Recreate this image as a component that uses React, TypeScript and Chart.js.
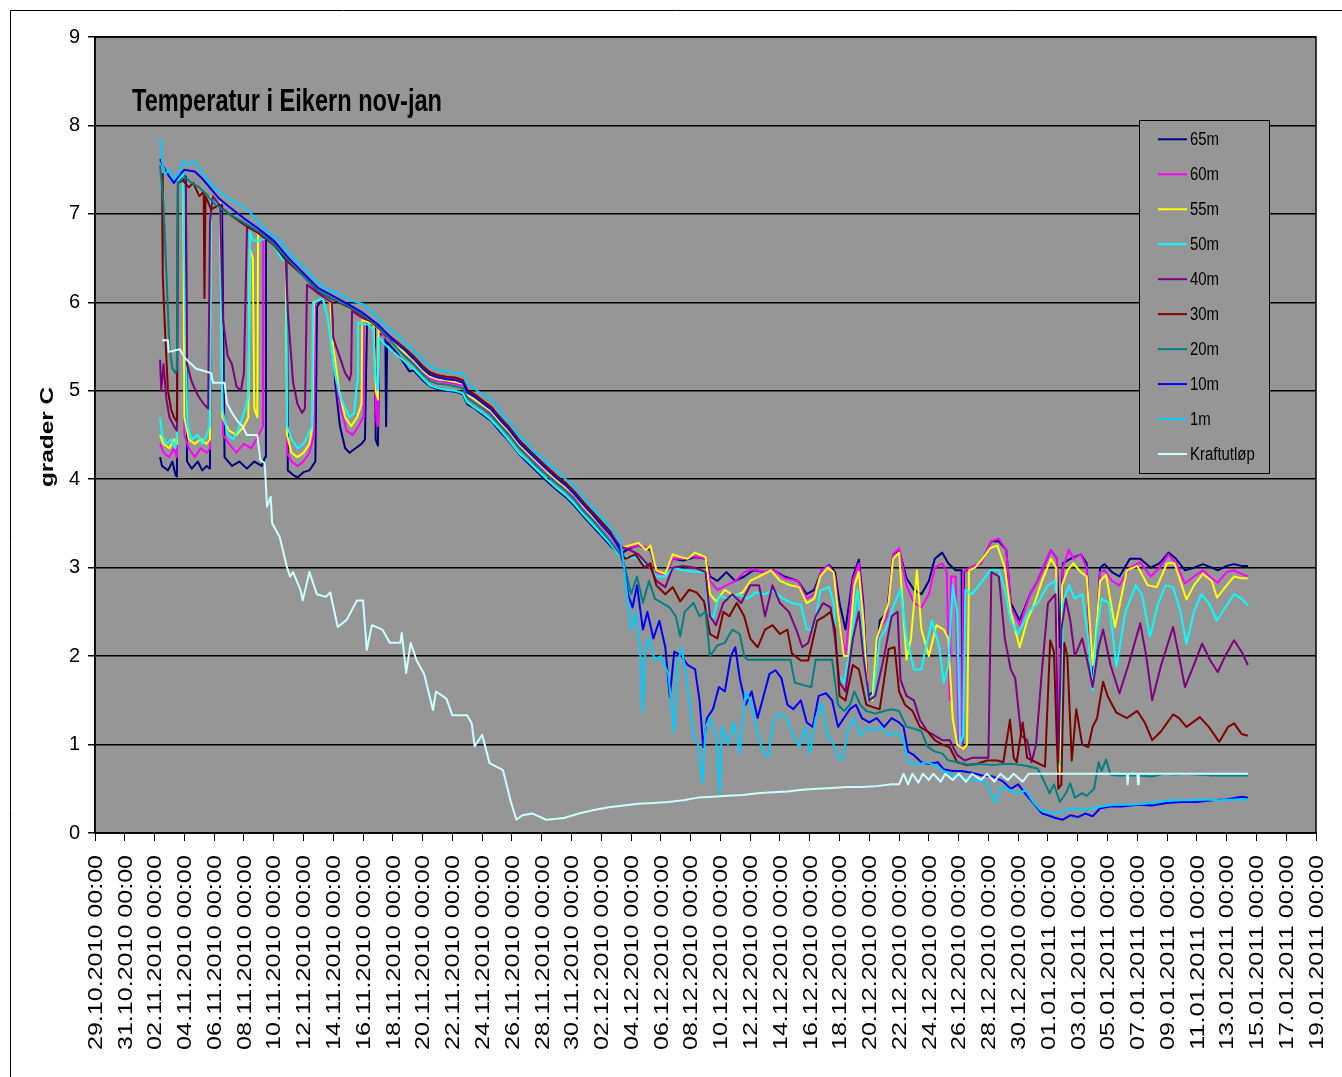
import React, { useEffect, useRef } from "react";
import { Chart, registerables } from "chart.js";

Chart.register(...registerables);

const chartTitle = "Temperatur i Eikern nov-jan";
const yAxisTitle = "grader C";

const tickLabels = [
  "29.10.2010 00:00", "31.10.2010 00:00", "02.11.2010 00:00", "04.11.2010 00:00", "06.11.2010 00:00",
  "08.11.2010 00:00", "10.11.2010 00:00", "12.11.2010 00:00", "14.11.2010 00:00", "16.11.2010 00:00",
  "18.11.2010 00:00", "20.11.2010 00:00", "22.11.2010 00:00", "24.11.2010 00:00", "26.11.2010 00:00",
  "28.11.2010 00:00", "30.11.2010 00:00", "02.12.2010 00:00", "04.12.2010 00:00", "06.12.2010 00:00",
  "08.12.2010 00:00", "10.12.2010 00:00", "12.12.2010 00:00", "14.12.2010 00:00", "16.12.2010 00:00",
  "18.12.2010 00:00", "20.12.2010 00:00", "22.12.2010 00:00", "24.12.2010 00:00", "26.12.2010 00:00",
  "28.12.2010 00:00", "30.12.2010 00:00", "01.01.2011 00:00", "03.01.2011 00:00", "05.01.2011 00:00",
  "07.01.2011 00:00", "09.01.2011 00:00", "11.01.2011 00:00", "13.01.2011 00:00", "15.01.2011 00:00",
  "17.01.2011 00:00", "19.01.2011 00:00",
];

const seriesNames = ["65m", "60m", "55m", "50m", "40m", "30m", "20m", "10m", "1m", "Kraftutløp"];
const seriesColors = ["#000080", "#FF00FF", "#FFFF00", "#00FFFF", "#800080", "#800000", "#008080", "#0000FF", "#00CCFF", "#CCFFFF"];

// [days since 29.10.2010 00:00, temperature °C]
const s65: [number, number][] = [
  [4.37,4.25],[4.5,4.15],[4.9,4.1],[5.2,4.2],[5.4,4.05],[5.5,4.03],[5.57,7.4],[5.9,7.45],[6.1,7.42],[6.18,4.2],[6.5,4.12],[6.9,4.2],[7.2,4.1],[7.5,4.15],[7.72,4.12],[7.79,7.2],[8.3,7.12],[8.53,7.1],[8.7,4.25],[9.2,4.15],[9.7,4.2],[10.2,4.12],[10.7,4.2],[11.2,4.15],[11.42,4.25],[11.48,6.75],[12.0,6.68],[12.5,6.55],[12.89,6.46],[12.95,4.1],[13.3,4.05],[13.6,4.02],[14.0,4.08],[14.4,4.1],[14.8,4.2],[14.91,5.95],[15.3,6.05],[15.78,6.0],[15.92,5.9],[16.12,5.1],[16.45,4.6],[16.8,4.35],[17.1,4.3],[17.5,4.35],[17.9,4.4],[18.13,4.45],[18.27,5.8],[18.6,5.75],[18.8,5.7],[18.85,4.45],[19.0,4.38],[19.1,5.65],[19.5,5.62],[19.55,4.6],[19.62,5.55],[20.3,5.42],
  [20.8,5.3],[21.1,5.22],[21.4,5.23],[22.0,5.12],[22.5,5.05],[23.0,5.02],[23.6,5.0],[24.2,4.99],[24.7,4.96],[25.0,4.85],[25.5,4.8],[26.1,4.72],[26.6,4.66],[27.2,4.54],[27.8,4.43],[28.5,4.28],[29.1,4.18],[29.9,4.05],[30.4,3.97],[31.0,3.88],[31.6,3.8],[32.2,3.7],[32.8,3.58],[33.4,3.47],[33.9,3.38],[34.6,3.25],[35.26,3.15],
  [35.9,3.22],[36.5,3.25],[37.3,3.2],[37.7,2.95],[38.3,2.93],[38.8,3.1],[39.5,3.08],[40.3,3.12],[41.0,3.1],[41.3,2.9],[41.8,2.85],[42.4,2.95],[43.0,2.85],[43.6,2.9],[44.2,2.97],[45.0,2.95],[45.6,2.97],[46.3,2.9],[47.2,2.85],[47.8,2.7],[48.3,2.75],[48.8,2.97],[49.3,3.03],[49.7,2.95],[50.0,2.6],[50.4,2.3],[50.9,2.9],[51.3,3.09],[51.6,2.6],[51.9,1.55],[52.3,1.6],[52.7,2.4],[53.2,2.5],[53.6,3.15],[54.0,3.2],[54.5,2.88],[55.0,2.75],[55.5,2.7],[56.0,2.85],[56.4,3.1],[56.9,3.17],[57.3,3.05],[57.8,2.97],[58.2,2.97],[58.25,1.0],[58.35,2.95],[58.8,3.0],[59.5,3.05],[60.2,3.3],[60.7,3.3],[61.2,3.2],[61.5,2.6],[62.1,2.4],[62.8,2.7],[63.3,2.85],[64.2,3.2],[64.6,3.1],[64.8,2.1],[65.0,3.05],[65.5,3.1],[66.2,3.15],[66.6,3.05],[66.9,1.75],[67.2,2.0],[67.5,3.0],[67.8,3.04],[68.3,2.95],[68.8,2.9],[69.5,3.1],[70.2,3.1],[70.9,3.0],[71.5,3.05],[72.1,3.17],[72.6,3.1],[73.2,2.97],[73.8,3.0],[74.4,3.04],[75.0,3.0],[75.4,2.97],[76.0,3.02],[76.5,3.04],[77.0,3.02],[77.43,3.02],
];

const s60: [number, number][] = [
  [4.37,4.4],[4.6,4.3],[5.0,4.25],[5.3,4.35],[5.5,4.25],[5.57,7.4],[5.91,7.45],[6.0,4.5],[6.3,4.35],[6.7,4.25],[7.1,4.35],[7.5,4.3],[7.72,4.35],[7.79,7.2],[8.4,7.12],[8.6,4.5],[9.0,4.4],[9.5,4.3],[10.0,4.4],[10.5,4.35],[11.0,4.5],[11.28,4.6],[11.3,6.8],[12.0,6.68],[12.8,6.5],[12.89,4.3],[13.2,4.2],[13.6,4.15],[14.0,4.2],[14.4,4.3],[14.7,4.5],[14.8,6.0],[15.4,6.05],[15.85,6.0],[16.1,5.2],[16.5,4.8],[16.9,4.55],[17.3,4.5],[17.7,4.6],[18.0,4.7],[18.05,5.8],[18.7,5.75],[18.9,4.65],[19.0,4.6],[19.1,5.7],[19.5,5.6],[20.3,5.5],
  [20.8,5.42],[21.4,5.33],[22.0,5.22],[22.5,5.14],[23.0,5.11],[23.6,5.1],[24.2,5.08],[24.7,5.06],[25.0,4.95],[25.5,4.89],[26.1,4.82],[26.6,4.75],[27.2,4.64],[27.8,4.53],[28.5,4.37],[29.1,4.28],[29.9,4.14],[30.4,4.07],[31.0,3.98],[31.6,3.9],[32.2,3.8],[32.8,3.67],[33.4,3.57],[33.9,3.48],[34.6,3.35],[35.26,3.2],
  [35.9,3.23],[36.5,3.25],[37.3,3.22],[37.7,2.95],[38.3,2.92],[38.8,3.1],[39.5,3.1],[40.3,3.13],[41.0,3.1],[41.3,2.85],[41.8,2.75],[42.4,2.8],[43.0,2.85],[43.6,2.95],[44.2,2.98],[45.0,2.95],[45.6,2.97],[46.3,2.88],[47.2,2.85],[47.8,2.65],[48.3,2.7],[48.8,2.97],[49.3,3.02],[49.7,2.9],[50.0,2.4],[50.4,2.0],[50.9,2.85],[51.3,3.05],[51.6,2.5],[51.9,1.5],[52.3,1.55],[52.7,2.3],[53.2,2.45],[53.6,3.15],[54.0,3.22],[54.5,2.8],[55.0,2.6],[55.5,2.55],[56.0,2.7],[56.4,3.0],[56.9,3.05],[57.2,2.95],[57.4,1.5],[57.5,2.9],[57.8,2.9],[58.0,1.0],[58.2,0.95],[58.3,2.95],[58.8,3.0],[59.5,3.05],[60.2,3.3],[60.7,3.33],[61.2,3.2],[61.5,2.55],[62.1,2.35],[62.8,2.7],[63.3,2.85],[64.2,3.2],[64.6,3.1],[64.7,0.75],[64.85,0.75],[65.0,3.0],[65.4,3.2],[65.7,3.1],[66.2,3.15],[66.6,3.0],[66.9,1.85],[67.2,2.1],[67.5,2.95],[67.8,2.97],[68.3,2.85],[68.8,2.8],[69.5,3.0],[70.2,3.06],[70.9,2.9],[71.5,3.0],[72.1,3.15],[72.6,3.05],[73.2,2.82],[73.8,2.9],[74.4,2.97],[75.0,2.88],[75.4,2.83],[76.0,2.95],[76.5,2.97],[77.0,2.93],[77.43,2.9],
];

const s55: [number, number][] = [
  [4.37,4.5],[4.6,4.4],[5.0,4.35],[5.3,4.45],[5.5,4.4],[5.57,7.4],[5.91,7.45],[6.0,4.7],[6.3,4.45],[6.7,4.4],[7.1,4.45],[7.5,4.4],[7.72,4.45],[7.79,7.2],[8.4,7.12],[8.55,4.7],[9.0,4.55],[9.5,4.5],[10.0,4.6],[10.3,4.7],[10.4,6.6],[10.6,6.5],[10.7,4.8],[10.9,4.7],[10.95,6.8],[12.0,6.68],[12.8,6.5],[12.89,4.5],[13.2,4.3],[13.6,4.25],[14.0,4.3],[14.4,4.4],[14.6,4.6],[14.7,6.0],[15.4,6.05],[15.8,6.0],[16.0,5.5],[16.4,5.0],[16.8,4.7],[17.2,4.6],[17.6,4.7],[17.9,4.85],[17.95,5.8],[18.7,5.75],[18.85,5.0],[19.0,4.9],[19.05,5.7],[19.5,5.62],[20.3,5.5],
  [20.8,5.43],[21.4,5.34],[22.0,5.23],[22.5,5.16],[23.0,5.13],[23.6,5.12],[24.2,5.1],[24.7,5.08],[25.0,4.96],[25.5,4.9],[26.1,4.83],[26.6,4.77],[27.2,4.65],[27.8,4.54],[28.5,4.39],[29.1,4.29],[29.9,4.16],[30.4,4.08],[31.0,3.99],[31.6,3.91],[32.2,3.82],[32.8,3.69],[33.4,3.58],[33.9,3.49],[34.6,3.36],[35.26,3.22],
  [35.9,3.25],[36.5,3.28],[37.0,3.2],[37.3,3.25],[37.7,2.97],[38.3,2.93],[38.8,3.15],[39.3,3.12],[39.8,3.1],[40.3,3.17],[41.0,3.12],[41.3,2.7],[41.7,2.62],[42.3,2.75],[42.9,2.68],[43.5,2.72],[44.0,2.85],[44.6,2.9],[45.4,2.97],[46.0,2.85],[46.7,2.8],[47.3,2.78],[47.8,2.6],[48.3,2.65],[48.7,2.9],[49.2,3.0],[49.6,2.95],[49.9,2.5],[50.3,2.0],[50.6,2.0],[51.0,2.8],[51.3,2.95],[51.6,2.4],[51.9,1.55],[52.2,1.5],[52.5,2.2],[52.8,2.35],[53.3,2.6],[53.6,3.1],[54.0,3.17],[54.5,1.96],[54.8,2.2],[55.2,2.97],[55.5,2.3],[56.0,2.0],[56.5,2.35],[57.0,2.3],[57.3,2.2],[57.6,1.3],[57.9,1.0],[58.3,0.95],[58.56,1.0],[58.7,2.97],[59.1,3.0],[59.6,3.1],[60.1,3.22],[60.6,3.25],[61.1,3.0],[61.5,2.5],[62.1,2.1],[62.6,2.4],[63.1,2.6],[63.6,2.85],[64.2,3.1],[64.55,3.0],[64.65,0.68],[64.8,0.7],[64.95,2.8],[65.3,2.97],[65.7,3.05],[66.2,2.95],[66.6,2.9],[67.0,1.9],[67.2,2.2],[67.5,2.85],[67.9,2.92],[68.5,2.33],[69.3,2.97],[70.0,3.02],[70.7,2.8],[71.3,2.78],[72.0,3.05],[72.5,3.05],[73.3,2.64],[73.8,2.8],[74.4,2.93],[75.0,2.85],[75.35,2.66],[76.0,2.8],[76.5,2.9],[77.0,2.88],[77.43,2.88],
];

const s50: [number, number][] = [
  [4.37,4.7],[4.5,4.5],[4.8,4.4],[5.1,4.45],[5.4,4.35],[5.5,4.5],[5.57,7.4],[5.91,7.45],[5.95,6.9],[6.1,5.5],[6.2,4.6],[6.5,4.45],[6.9,4.5],[7.2,4.4],[7.5,4.5],[7.7,4.6],[7.79,7.15],[8.4,7.1],[8.55,4.8],[8.9,4.5],[9.3,4.45],[9.7,4.6],[10.1,4.8],[10.3,4.95],[10.41,6.8],[10.6,6.7],[11.0,6.7],[11.5,6.72],[12.0,6.65],[12.5,6.5],[12.85,6.45],[12.9,4.6],[13.2,4.45],[13.6,4.35],[14.0,4.4],[14.3,4.5],[14.57,4.6],[14.64,6.0],[15.3,6.05],[15.65,5.8],[16.1,5.2],[16.45,4.95],[16.8,4.8],[17.1,4.7],[17.4,4.75],[17.6,5.1],[17.66,5.77],[18.3,5.75],[18.7,5.7],[18.8,5.2],[19.0,5.0],[19.1,5.6],[19.5,5.52],[20.3,5.4],
  [20.8,5.33],[21.4,5.25],[22.0,5.14],[22.5,5.06],[23.0,5.03],[23.6,5.01],[24.2,5.0],[24.7,4.97],[25.0,4.87],[25.5,4.81],[26.1,4.74],[26.6,4.67],[27.2,4.56],[27.8,4.44],[28.5,4.29],[29.1,4.2],[29.9,4.07],[30.4,3.99],[31.0,3.9],[31.6,3.82],[32.2,3.72],[32.8,3.6],[33.4,3.49],[33.9,3.4],[34.6,3.27],[35.26,3.13],
  [35.9,3.12],[36.5,3.1],[37.3,3.0],[37.7,2.9],[38.3,2.9],[38.8,3.0],[39.5,2.97],[40.3,2.95],[41.0,2.95],[41.2,2.5],[41.5,2.42],[41.9,2.68],[42.5,2.65],[43.2,2.7],[43.8,2.65],[44.4,2.72],[45.0,2.7],[45.5,2.74],[46.2,2.65],[46.8,2.6],[47.4,2.58],[47.8,2.3],[48.3,2.3],[48.7,2.74],[49.3,2.78],[49.6,2.6],[49.9,1.8],[50.3,1.7],[50.7,2.05],[51.2,2.75],[51.5,2.3],[51.9,1.5],[52.3,1.55],[52.7,2.2],[53.1,2.3],[53.7,2.6],[54.1,2.75],[54.5,2.2],[55.0,1.85],[55.5,1.85],[55.8,2.1],[56.2,2.4],[56.7,2.1],[57.0,1.7],[57.3,1.9],[57.6,2.8],[57.9,2.5],[58.1,1.0],[58.3,1.1],[58.45,2.75],[58.9,2.7],[59.6,2.85],[60.1,2.97],[60.7,2.97],[61.1,2.75],[61.5,2.4],[62.0,2.25],[62.7,2.5],[63.3,2.6],[64.0,2.8],[64.5,2.85],[64.65,0.75],[64.9,0.8],[65.0,2.6],[65.4,2.8],[65.8,2.65],[66.3,2.7],[66.7,2.2],[67.0,1.62],[67.3,2.3],[67.6,2.65],[68.1,2.6],[68.6,1.88],[69.2,2.5],[69.9,2.8],[70.3,2.7],[70.85,2.22],[71.4,2.6],[71.9,2.8],[72.4,2.78],[72.9,2.5],[73.3,2.14],[73.8,2.5],[74.3,2.7],[74.8,2.6],[75.35,2.4],[75.9,2.55],[76.5,2.7],[77.0,2.65],[77.43,2.57],
];

const s40: [number, number][] = [
  [4.37,5.35],[4.45,5.0],[4.6,5.3],[4.8,4.9],[5.0,4.7],[5.3,4.6],[5.5,4.55],[5.57,7.35],[6.1,7.4],[6.18,5.3],[6.5,5.1],[6.9,4.95],[7.3,4.85],[7.6,4.8],[7.72,6.9],[7.9,7.2],[8.4,7.1],[8.6,5.8],[8.9,5.4],[9.2,5.3],[9.5,5.05],[9.8,5.0],[10.0,5.2],[10.21,6.85],[11.0,6.8],[12.0,6.68],[12.8,6.5],[12.95,5.9],[13.3,5.1],[13.6,4.85],[13.9,4.75],[14.1,4.8],[14.24,6.2],[15.0,6.1],[15.9,6.0],[16.0,5.6],[16.4,5.4],[16.8,5.2],[17.1,5.12],[17.2,5.2],[17.26,5.9],[18.0,5.82],[18.7,5.78],[19.5,5.62],[20.3,5.54],
  [20.8,5.47],[21.4,5.38],[22.0,5.27],[22.5,5.2],[23.0,5.17],[23.6,5.15],[24.2,5.14],[24.7,5.11],[25.0,5.0],[25.5,4.95],[26.1,4.87],[26.6,4.81],[27.2,4.69],[27.8,4.58],[28.5,4.43],[29.1,4.33],[29.9,4.2],[30.4,4.12],[31.0,4.03],[31.6,3.95],[32.2,3.85],[32.8,3.73],[33.4,3.62],[33.9,3.53],[34.6,3.4],[35.26,3.24],
  [35.9,3.2],[36.5,3.15],[37.3,3.0],[37.7,2.85],[38.3,2.78],[38.8,3.0],[39.5,3.02],[40.3,3.0],[41.0,2.95],[41.3,2.45],[41.7,2.35],[42.2,2.6],[42.8,2.7],[43.4,2.6],[44.0,2.8],[44.6,2.8],[45.0,2.45],[45.5,2.8],[46.0,2.6],[46.6,2.5],[47.1,2.3],[47.5,2.1],[47.9,2.15],[48.4,2.45],[48.9,2.6],[49.4,2.55],[49.7,2.2],[50.0,1.7],[50.4,1.6],[50.9,2.2],[51.3,2.5],[51.6,2.0],[52.0,1.5],[52.4,1.55],[53.0,2.0],[53.5,2.45],[53.9,2.5],[54.1,1.73],[54.5,1.55],[55.0,1.5],[55.4,1.28],[55.9,1.15],[56.4,1.1],[56.9,1.05],[57.4,1.05],[57.9,0.88],[58.4,0.82],[58.9,0.85],[59.5,0.85],[60.0,0.85],[60.2,2.95],[60.7,2.9],[61.1,2.2],[61.5,1.85],[61.8,1.75],[62.2,1.1],[62.6,1.05],[62.9,0.8],[63.2,1.0],[63.6,1.85],[64.0,2.6],[64.5,2.7],[64.7,0.8],[64.9,2.3],[65.2,2.65],[65.5,2.4],[65.8,2.0],[66.3,2.2],[66.7,1.9],[67.0,1.65],[67.4,2.1],[67.7,2.3],[68.2,1.9],[68.8,1.58],[69.4,1.9],[70.2,2.37],[70.6,2.0],[71.0,1.5],[71.6,1.9],[72.4,2.33],[72.8,2.0],[73.2,1.65],[73.8,1.9],[74.35,2.14],[74.9,1.95],[75.4,1.82],[75.9,2.0],[76.5,2.18],[77.0,2.05],[77.43,1.9],
];

const s30: [number, number][] = [
  [4.37,7.45],[4.5,7.45],[4.55,6.3],[4.7,5.7],[4.9,5.0],[5.1,4.8],[5.3,4.7],[5.5,4.65],[5.57,7.35],[5.9,7.38],[6.3,7.3],[6.6,7.35],[7.0,7.2],[7.3,7.25],[7.35,6.05],[7.42,7.2],[7.8,7.05],[8.3,7.1],[9.0,7.0],[10.0,6.88],[11.0,6.78],[12.0,6.65],[13.0,6.45],[14.0,6.3],[15.0,6.12],[16.0,6.03],[17.0,5.95],[18.0,5.85],[19.0,5.72],[20.3,5.55],
  [20.8,5.48],[21.4,5.39],[22.0,5.28],[22.5,5.21],[23.0,5.18],[23.6,5.16],[24.2,5.15],[24.7,5.12],[25.0,5.01],[25.5,4.96],[26.1,4.88],[26.6,4.82],[27.2,4.7],[27.8,4.59],[28.5,4.44],[29.1,4.34],[29.9,4.21],[30.4,4.13],[31.0,4.04],[31.6,3.96],[32.2,3.86],[32.8,3.74],[33.4,3.63],[33.9,3.54],[34.6,3.41],[35.26,3.2],
  [35.6,3.1],[36.3,3.15],[36.9,3.0],[37.3,3.05],[37.7,2.8],[38.3,2.7],[38.8,2.78],[39.3,2.62],[39.9,2.75],[40.4,2.72],[40.9,2.62],[41.3,2.25],[41.8,2.2],[42.2,2.5],[42.6,2.45],[43.1,2.6],[43.6,2.45],[44.0,2.2],[44.5,2.1],[45.0,2.3],[45.5,2.35],[46.0,2.25],[46.5,2.3],[46.8,2.03],[47.4,1.95],[47.9,1.95],[48.5,2.4],[49.0,2.45],[49.4,2.5],[49.7,2.3],[50.0,1.55],[50.4,1.5],[50.9,1.9],[51.3,1.85],[51.8,1.45],[52.3,1.42],[52.7,1.4],[53.3,2.08],[53.7,2.1],[54.0,1.6],[54.4,1.45],[54.9,1.38],[55.4,1.2],[55.9,1.15],[56.4,1.05],[56.9,1.0],[57.4,0.97],[57.9,0.8],[58.5,0.77],[59.2,0.78],[59.9,0.82],[60.6,0.82],[61.0,0.8],[61.45,1.28],[61.7,0.85],[61.9,0.8],[62.3,1.25],[62.6,0.85],[63.2,0.8],[63.8,0.75],[64.15,2.18],[64.4,2.05],[64.7,0.5],[64.9,0.55],[65.1,2.15],[65.3,2.0],[65.6,0.82],[65.9,1.4],[66.3,1.0],[66.7,0.97],[67.0,1.2],[67.3,1.3],[67.7,1.71],[68.0,1.55],[68.6,1.36],[69.3,1.3],[70.0,1.38],[70.5,1.25],[71.0,1.05],[71.6,1.15],[72.4,1.34],[72.8,1.3],[73.3,1.2],[74.2,1.31],[74.8,1.2],[75.5,1.03],[76.1,1.2],[76.5,1.24],[77.0,1.12],[77.43,1.1],
];

const s20: [number, number][] = [
  [4.37,7.55],[4.6,7.1],[4.8,6.3],[5.0,5.5],[5.2,5.25],[5.4,5.2],[5.5,5.25],[5.57,7.35],[6.0,7.42],[6.5,7.35],[7.0,7.3],[7.5,7.22],[8.0,7.12],[9.0,7.0],[10.0,6.9],[11.0,6.8],[12.0,6.66],[13.0,6.48],[14.0,6.3],[15.0,6.13],[16.0,6.04],[17.0,5.96],[18.0,5.86],[19.0,5.73],[20.3,5.48],
  [20.8,5.39],[21.4,5.3],[22.0,5.19],[22.5,5.11],[23.0,5.08],[23.6,5.07],[24.2,5.05],[24.7,5.03],[25.0,4.92],[25.5,4.86],[26.1,4.79],[26.6,4.72],[27.2,4.61],[27.8,4.5],[28.5,4.35],[29.1,4.25],[29.9,4.11],[30.4,4.04],[31.0,3.95],[31.6,3.87],[32.2,3.77],[32.8,3.64],[33.4,3.54],[33.9,3.44],[34.6,3.3],[35.26,3.15],
  [35.6,3.0],[36.0,2.7],[36.4,2.9],[36.8,2.6],[37.2,2.85],[37.6,2.65],[38.1,2.6],[38.6,2.55],[39.0,2.45],[39.3,2.22],[39.6,2.5],[40.2,2.6],[40.6,2.45],[41.0,2.5],[41.3,2.0],[41.8,2.12],[42.3,2.15],[42.8,2.3],[43.3,2.25],[43.6,2.0],[43.8,1.96],[45.0,1.96],[46.0,1.96],[46.7,1.96],[47.0,1.7],[47.6,1.67],[48.1,1.65],[48.4,1.96],[49.0,1.96],[49.5,1.96],[49.9,1.45],[50.3,1.38],[50.7,1.45],[51.0,1.6],[51.4,1.45],[51.8,1.38],[52.4,1.35],[53.0,1.38],[53.5,1.4],[54.0,1.38],[54.5,1.2],[55.0,1.18],[55.5,1.15],[55.9,0.98],[56.4,0.92],[56.9,0.9],[57.3,0.82],[58.0,0.8],[58.7,0.77],[59.4,0.78],[60.3,0.77],[61.0,0.78],[61.7,0.78],[62.5,0.76],[63.3,0.73],[63.7,0.6],[64.1,0.45],[64.4,0.55],[64.8,0.35],[65.2,0.45],[65.5,0.56],[65.8,0.4],[66.3,0.45],[66.6,0.42],[67.1,0.5],[67.4,0.8],[67.6,0.7],[67.9,0.83],[68.2,0.66],[68.6,0.65],[70.0,0.65],[71.0,0.64],[71.8,0.67],[72.5,0.66],[73.2,0.67],[74.0,0.66],[75.0,0.65],[76.0,0.65],[77.43,0.65],
];

const s10: [number, number][] = [
  [4.37,7.62],[4.7,7.5],[5.0,7.42],[5.3,7.35],[5.6,7.42],[6.0,7.5],[6.7,7.48],[7.2,7.4],[7.7,7.3],[8.3,7.18],[9.0,7.08],[10.0,6.95],[11.0,6.83],[12.0,6.7],[13.0,6.5],[14.0,6.33],[15.0,6.16],[16.0,6.07],[17.0,5.98],[18.0,5.88],[19.0,5.75],[20.3,5.53],
  [20.8,5.46],[21.4,5.36],[22.0,5.25],[22.5,5.18],[23.0,5.15],[23.6,5.13],[24.2,5.12],[24.7,5.09],[25.0,4.98],[25.5,4.93],[26.1,4.85],[26.6,4.79],[27.2,4.67],[27.8,4.56],[28.5,4.41],[29.1,4.31],[29.9,4.18],[30.4,4.1],[31.0,4.01],[31.6,3.93],[32.2,3.83],[32.8,3.71],[33.4,3.6],[33.9,3.5],[34.6,3.37],[35.26,3.22],
  [35.5,3.05],[35.8,2.7],[36.1,2.55],[36.4,2.8],[36.8,2.3],[37.1,2.5],[37.5,2.2],[37.9,2.4],[38.3,2.1],[38.6,1.54],[38.9,2.05],[39.4,2.0],[39.8,1.9],[40.3,1.85],[40.6,1.5],[40.85,0.97],[41.1,1.3],[41.5,1.4],[41.9,1.65],[42.3,1.6],[42.7,2.0],[43.0,2.1],[43.3,1.75],[43.7,1.45],[44.1,1.6],[44.5,1.3],[44.9,1.55],[45.3,1.8],[45.7,1.84],[46.1,1.75],[46.5,1.45],[46.9,1.4],[47.4,1.5],[47.8,1.25],[48.2,1.2],[48.6,1.55],[49.1,1.58],[49.5,1.5],[49.9,1.2],[50.3,1.3],[50.7,1.4],[51.1,1.45],[51.5,1.3],[52.0,1.25],[52.5,1.3],[53.0,1.2],[53.5,1.3],[54.0,1.25],[54.3,1.2],[54.6,0.92],[55.0,0.88],[55.5,0.8],[56.0,0.78],[56.6,0.8],[57.0,0.72],[57.6,0.7],[58.2,0.7],[58.9,0.68],[59.6,0.65],[60.3,0.64],[61.0,0.58],[61.5,0.5],[62.0,0.55],[62.6,0.42],[63.1,0.32],[63.6,0.22],[64.0,0.2],[64.5,0.17],[65.0,0.15],[65.5,0.2],[66.0,0.18],[66.5,0.22],[67.0,0.19],[67.5,0.28],[68.2,0.3],[69.0,0.3],[70.0,0.32],[71.0,0.31],[72.0,0.34],[73.0,0.35],[74.0,0.35],[75.0,0.37],[76.0,0.38],[77.0,0.41],[77.43,0.4],
];

const s1: [number, number][] = [
  [4.4,7.85],[4.5,7.6],[4.7,7.45],[5.0,7.5],[5.3,7.4],[5.6,7.45],[5.9,7.6],[6.2,7.55],[6.6,7.6],[7.0,7.52],[7.5,7.4],[8.0,7.3],[8.6,7.22],[9.2,7.15],[9.8,7.1],[10.4,7.02],[11.0,6.9],[11.6,6.8],[12.4,6.7],[13.2,6.52],[14.0,6.4],[14.8,6.25],[15.6,6.15],[16.4,6.1],[17.2,6.02],[18.0,5.98],[18.7,5.88],[19.5,5.74],[20.3,5.63],
  [20.8,5.55],[21.4,5.45],[22.0,5.35],[22.5,5.27],[23.0,5.24],[23.6,5.22],[24.2,5.2],[24.7,5.2],[25.0,5.08],[25.5,5.02],[26.1,4.95],[26.6,4.9],[27.0,4.84],[27.2,4.76],[27.8,4.65],[28.5,4.5],[29.1,4.4],[29.4,4.32],[29.9,4.27],[30.4,4.18],[31.0,4.1],[31.6,4.0],[32.2,3.92],[32.8,3.8],[33.4,3.68],[33.9,3.6],[34.6,3.45],[35.26,3.32],
  [35.5,3.05],[35.8,2.6],[36.0,2.3],[36.3,2.5],[36.6,2.1],[36.8,1.36],[36.95,2.1],[37.2,2.2],[37.6,1.95],[38.0,2.0],[38.5,1.8],[38.9,1.13],[39.1,1.9],[39.4,2.1],[39.8,1.65],[40.2,1.1],[40.5,1.0],[40.8,0.57],[41.0,1.2],[41.3,1.3],[41.7,1.1],[41.95,0.45],[42.1,1.2],[42.5,1.0],[42.9,1.25],[43.3,0.9],[43.7,1.6],[44.0,1.5],[44.4,1.2],[44.8,0.95],[45.2,0.86],[45.6,1.3],[46.0,1.35],[46.5,1.28],[46.9,1.1],[47.3,0.97],[47.7,1.2],[48.0,0.9],[48.4,1.3],[48.8,1.47],[49.2,1.1],[49.6,1.0],[49.9,0.85],[50.2,0.83],[50.6,1.2],[51.0,1.3],[51.4,1.1],[51.8,1.2],[52.3,1.15],[52.8,1.2],[53.3,1.1],[53.8,1.15],[54.3,1.05],[54.6,0.8],[55.2,0.77],[55.8,0.8],[56.4,0.77],[57.0,0.7],[57.7,0.65],[58.4,0.62],[59.1,0.6],[59.8,0.58],[60.5,0.34],[60.8,0.52],[61.3,0.5],[61.9,0.45],[62.5,0.48],[63.0,0.35],[63.5,0.26],[64.0,0.24],[64.6,0.22],[65.2,0.26],[65.8,0.28],[66.5,0.26],[67.0,0.28],[67.6,0.3],[68.5,0.32],[69.5,0.32],[70.5,0.33],[71.5,0.36],[72.5,0.37],[73.5,0.37],[74.5,0.38],[75.5,0.37],[76.5,0.38],[77.43,0.38],
];

const sKraft: [number, number][] = [
  [4.5,5.57],[4.9,5.57],[4.95,5.44],[5.7,5.47],[6.0,5.38],[6.4,5.31],[6.8,5.25],[7.4,5.22],[7.8,5.2],[7.92,5.09],[8.7,5.09],[8.86,4.86],[9.2,4.75],[9.6,4.65],[9.9,4.6],[10.2,4.5],[10.9,4.5],[11.1,4.22],[11.4,4.18],[11.55,3.69],[11.8,3.8],[11.9,3.5],[12.4,3.35],[12.9,3.0],[13.1,2.9],[13.3,2.95],[13.8,2.75],[13.95,2.63],[14.4,2.95],[14.9,2.7],[15.5,2.67],[15.8,2.72],[16.3,2.33],[16.9,2.41],[17.6,2.63],[18.0,2.63],[18.25,2.07],[18.6,2.35],[19.3,2.3],[19.8,2.15],[20.5,2.15],[20.6,2.26],[20.9,1.81],[21.2,2.15],[21.6,1.95],[22.1,1.8],[22.7,1.39],[22.9,1.6],[23.6,1.52],[24.0,1.33],[25.0,1.33],[25.3,1.24],[25.5,0.98],[26.0,1.11],[26.5,0.79],[27.4,0.71],[27.9,0.37],[28.3,0.15],[28.7,0.2],[29.4,0.22],[30.3,0.15],[31.0,0.16],[31.5,0.17],[32.5,0.22],[33.5,0.26],[34.5,0.29],[35.5,0.31],[36.5,0.33],[37.5,0.34],[38.5,0.35],[39.5,0.37],[40.5,0.4],[41.5,0.41],[42.5,0.42],[43.5,0.43],[44.5,0.45],[45.5,0.46],[46.5,0.47],[47.5,0.49],[48.5,0.5],[49.5,0.51],[50.5,0.52],[51.5,0.52],[52.5,0.53],[53.5,0.55],[54.0,0.55],[54.3,0.67],[54.6,0.55],[54.9,0.67],[55.3,0.57],[55.6,0.67],[56.0,0.6],[56.3,0.67],[56.8,0.58],[57.1,0.67],[57.6,0.6],[58.0,0.67],[58.5,0.58],[58.9,0.67],[59.5,0.6],[59.9,0.67],[60.4,0.58],[60.8,0.67],[61.3,0.6],[61.7,0.67],[62.3,0.58],[62.7,0.67],[63.4,0.67],[64.0,0.67],[65.0,0.67],[66.0,0.67],[67.0,0.67],[68.0,0.67],[69.3,0.67],[69.35,0.55],[69.4,0.67],[70.0,0.67],[70.05,0.55],[70.1,0.67],[72.0,0.67],[75.0,0.67],[77.43,0.67],
];

const seriesData = [s65, s60, s55, s50, s40, s30, s20, s10, s1, sKraft];

const FONT = "'Liberation Sans', Arial, Helvetica, sans-serif";

const decorPlugin = {
  id: "decor",
  beforeDraw(chart: any) {
    const { ctx, chartArea: a } = chart;
    ctx.save();
    ctx.fillStyle = "#ffffff";
    ctx.fillRect(0, 0, chart.width, chart.height);
    ctx.strokeStyle = "#000";
    ctx.lineWidth = 1;
    ctx.beginPath();
    ctx.moveTo(10.5, chart.height);
    ctx.lineTo(10.5, 10.5);
    ctx.lineTo(chart.width, 10.5);
    ctx.stroke();
    ctx.fillStyle = "#969696";
    ctx.fillRect(a.left, a.top, a.right - a.left, a.bottom - a.top);
    ctx.restore();
  },
  afterDraw(chart: any) {
    const { ctx, chartArea: a } = chart;
    ctx.save();
    ctx.strokeStyle = "#000";
    ctx.lineWidth = 1.5;
    ctx.strokeRect(a.left, a.top, a.right - a.left, a.bottom - a.top);

    ctx.fillStyle = "#000";
    ctx.font = `bold 31px ${FONT}`;
    ctx.textAlign = "left";
    ctx.textBaseline = "alphabetic";
    const tw = ctx.measureText(chartTitle).width;
    ctx.save();
    ctx.translate(a.left + 37, a.top + 74);
    ctx.scale(310 / tw, 1);
    ctx.fillText(chartTitle, 0, 0);
    ctx.restore();

    ctx.save();
    ctx.font = `bold 18px ${FONT}`;
    const yw = ctx.measureText(yAxisTitle).width;
    ctx.translate(48, (a.top + a.bottom) / 2 + 2);
    ctx.rotate(-Math.PI / 2);
    ctx.scale(100 / yw, 1);
    ctx.textAlign = "center";
    ctx.textBaseline = "middle";
    ctx.fillText(yAxisTitle, 0, 0);
    ctx.restore();

    const xs = chart.scales.x;
    ctx.font = `21px ${FONT}`;
    xs.ticks.forEach((t: any) => {
      const lbl = tickLabels[Math.round(t.value / 2)];
      if (!lbl) return;
      const px = xs.getPixelForValue(t.value);
      const w = ctx.measureText(lbl).width;
      ctx.save();
      ctx.translate(px + 1, a.bottom + 22);
      ctx.rotate(-Math.PI / 2);
      ctx.scale(195 / w, 1);
      ctx.textAlign = "right";
      ctx.textBaseline = "middle";
      ctx.fillText(lbl, 0, 0);
      ctx.restore();
    });

    const lx = 1139.5, ly = 120.5, lw = 130, lh = 353;
    ctx.fillStyle = "#969696";
    ctx.fillRect(lx, ly, lw, lh);
    ctx.strokeStyle = "#000";
    ctx.lineWidth = 1;
    ctx.strokeRect(lx, ly, lw, lh);
    ctx.font = `18px ${FONT}`;
    ctx.textAlign = "left";
    ctx.textBaseline = "middle";
    chart.data.datasets.forEach((ds: any, i: number) => {
      const y = 139.3 + i * 34.97;
      ctx.strokeStyle = ds.borderColor;
      ctx.lineWidth = 2;
      ctx.beginPath();
      ctx.moveTo(1158, y);
      ctx.lineTo(1187, y);
      ctx.stroke();
      ctx.save();
      ctx.translate(1190, y + 1);
      ctx.scale(0.83, 1);
      ctx.fillStyle = "#000";
      ctx.fillText(ds.label, 0, 0);
      ctx.restore();
    });
    ctx.restore();
  },
};

export default function App() {
  const ref = useRef<HTMLCanvasElement | null>(null);
  useEffect(() => {
    if (!ref.current) return;
    Chart.defaults.font.family = FONT;
    const datasets = seriesData.map((d, i) => ({
      label: seriesNames[i],
      data: d.map(([x, y]) => ({ x, y })),
      borderColor: seriesColors[i],
      backgroundColor: seriesColors[i],
      borderWidth: 2,
      pointRadius: 0,
      tension: 0,
      fill: false,
      borderJoinStyle: "round" as const,
      order: seriesData.length - 1 - i,
    }));
    const chart = new Chart(ref.current, {
      type: "line",
      data: { datasets },
      options: {
        responsive: false,
        animation: false,
        devicePixelRatio: 1,
        parsing: false,
        layout: { padding: { top: 37, right: 26, left: 0, bottom: 0 } },
        plugins: {
          legend: { display: false },
          tooltip: { enabled: false },
          title: { display: false },
        },
        scales: {
          x: {
            type: "linear",
            min: 0,
            max: 82,
            afterFit: (s: any) => { s.height = 244; },
            ticks: { display: false, stepSize: 2, autoSkip: false },
            grid: { drawOnChartArea: false, drawTicks: true, tickLength: 8, color: "#000", lineWidth: 1 },
            border: { display: true, color: "#000", width: 1.5 },
          },
          y: {
            type: "linear",
            min: 0,
            max: 9,
            afterFit: (s: any) => { s.width = 95; },
            ticks: { stepSize: 1, autoSkip: false, color: "#000", font: { size: 20, family: FONT }, padding: 8 },
            grid: { color: "#000", lineWidth: 1.5, tickLength: 7 },
            border: { display: true, color: "#000", width: 1.5 },
          },
        },
      },
      plugins: [decorPlugin],
    } as any);
    return () => chart.destroy();
  }, []);
  return (
    <div style={{ position: "fixed", left: 0, top: 0, width: 1342, height: 1077, background: "#fff" }}>
      <canvas ref={ref} width={1342} height={1077} style={{ display: "block" }} />
    </div>
  );
}
